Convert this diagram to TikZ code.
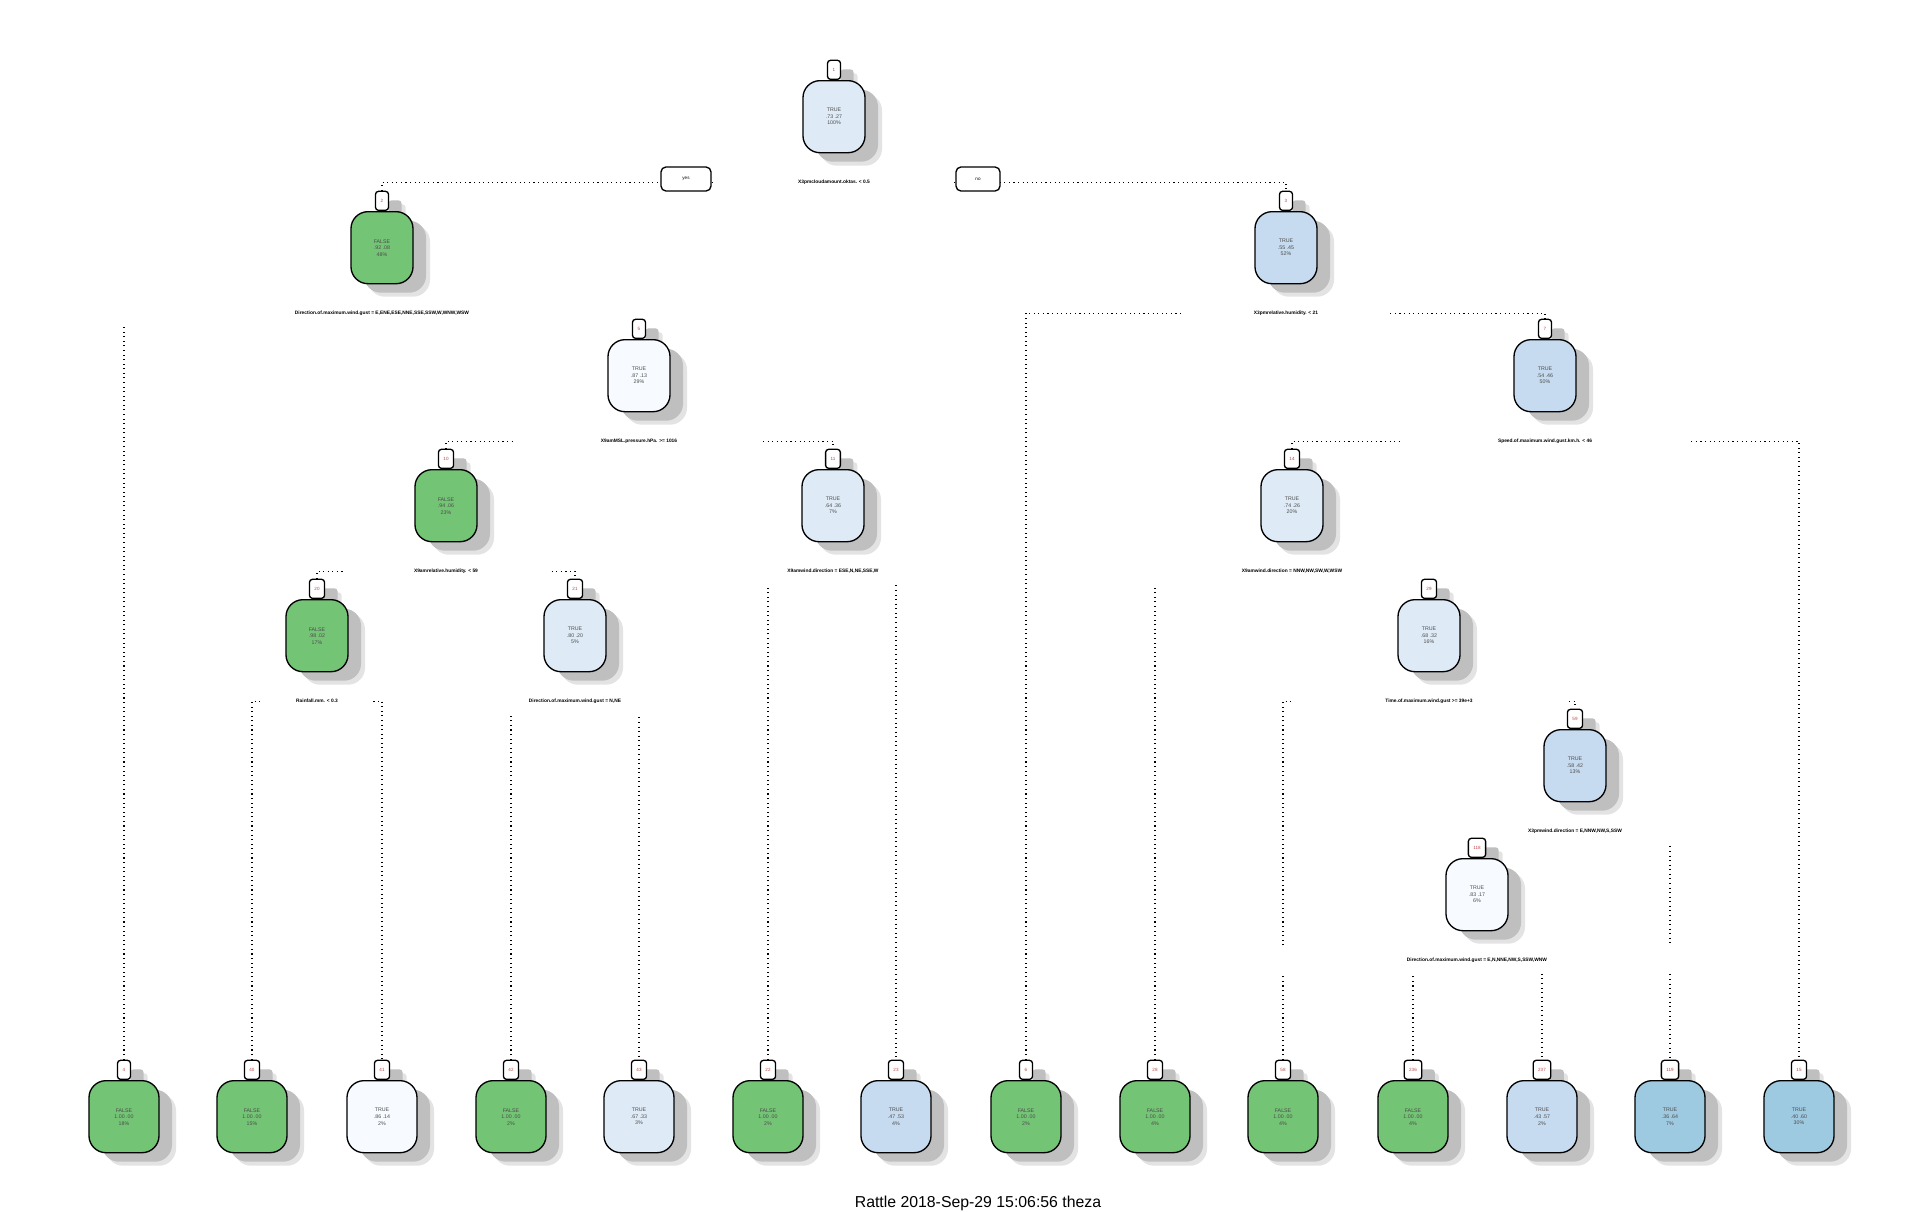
\documentclass[tikz,border=0pt]{standalone}
\usepackage{fontspec}
\setmainfont{Liberation Sans}
\usetikzlibrary{positioning,shadows,backgrounds}

\definecolor{leafgreen}{HTML}{74C476}
\definecolor{blueA}{HTML}{F7FBFF}
\definecolor{blueB}{HTML}{DEEBF7}
\definecolor{blueC}{HTML}{C6DBEF}
\definecolor{blueD}{HTML}{9ECAE1}

\begin{document}
\begin{tikzpicture}[x=0.01cm,y=-0.01cm,
	boxshadow/.style={general shadow={shadow xshift=0.17cm,shadow yshift=-0.13cm,fill=black!11},
		general shadow={shadow xshift=0.13cm,shadow yshift=-0.09cm,fill=black!25}},
	box/.style={draw,boxshadow,line width=0.38pt,rounded corners=0.17cm,minimum height=0.72cm,
		inner sep=0pt,align=center,text=black!70,font=\fontsize{1.5}{1.85}\selectfont},
	inner node/.style={box,minimum width=0.62cm},
	leaf node/.style={box,minimum width=0.70cm},
	num node/.style={draw,fill=white,boxshadow,line width=0.38pt,rounded corners=0.03cm,anchor=south,
		minimum width=0.13cm,minimum height=0.19cm,inner xsep=0.05cm,inner ysep=0pt,
		text=red!45!gray,font=\fontsize{1.3}{1.5}\selectfont},
	split/.style={fill=white,minimum height=0.26cm,inner sep=0pt,below=0.15cm of #1,
		font=\fontsize{1.38}{1.7}\selectfont\bfseries},
	yesno/.style={draw,fill=white,line width=0.38pt,rounded corners=0.05cm,minimum height=0.24cm,
		inner sep=0pt,font=\fontsize{1.3}{1.5}\selectfont},
	branch/.style={line width=0.32pt,dash pattern=on 0.3pt off 1.0pt}]
	\useasboundingbox (0,0) rectangle (1920,1212);

	\node[num node] (n1) at (834,80) {1};
	\node[inner node,fill=blueB,below=0pt of n1] (b1) {TRUE\\.73 .27\\100\%};
	\node[split=b1,minimum width=2.36cm] (s1) {X3pmcloudamount.oktas. < 0.5};
	\node[yesno,minimum width=0.50cm] (yes) at (686,179) {yes};
	\node[yesno,minimum width=0.44cm] (no) at (978,179) {no};

	\node[num node] (n2) at (382,211) {2};
	\node[inner node,fill=leafgreen,below=0pt of n2] (b2) {FALSE\\.92 .08\\48\%};
	\node[split=b2,minimum width=5.4cm] (s2) {Direction.of.maximum.wind.gust = E,ENE,ESE,NNE,SSE,SSW,W,WNW,WSW};
	\node[num node] (n3) at (1286,211) {3};
	\node[inner node,fill=blueC,below=0pt of n3] (b3) {TRUE\\.55 .45\\52\%};
	\node[split=b3,minimum width=2.06cm] (s3) {X3pmrelative.humidity. < 21};

	\node[num node] (n5) at (639,339) {5};
	\node[inner node,fill=blueA,below=0pt of n5] (b5) {TRUE\\.87 .13\\29\%};
	\node[split=b5,minimum width=2.46cm] (s5) {X9amMSL.pressure.hPa. >= 1016};
	\node[num node] (n7) at (1545,339) {7};
	\node[inner node,fill=blueC,below=0pt of n7] (b7) {TRUE\\.54 .46\\50\%};
	\node[split=b7,minimum width=2.9cm] (s7) {Speed.of.maximum.wind.gust.km.h. < 46};

	\node[num node] (n10) at (446,469) {10};
	\node[inner node,fill=leafgreen,below=0pt of n10] (b10) {FALSE\\.94 .06\\23\%};
	\node[split=b10,minimum width=2.06cm] (s10) {X9amrelative.humidity. < 59};
	\node[num node] (n11) at (833,469) {11};
	\node[inner node,fill=blueB,below=0pt of n11] (b11) {TRUE\\.64 .36\\7\%};
	\node[split=b11,minimum width=1.6cm] (s11) {X9amwind.direction = ESE,N,NE,SSE,W};
	\node[num node] (n14) at (1292,469) {14};
	\node[inner node,fill=blueB,below=0pt of n14] (b14) {TRUE\\.74 .26\\20\%};
	\node[split=b14,minimum width=3.0cm] (s14) {X9amwind.direction = NNW,NW,SW,W,WSW};

	\node[num node] (n20) at (317,599) {20};
	\node[inner node,fill=leafgreen,below=0pt of n20] (b20) {FALSE\\.98 .02\\17\%};
	\node[split=b20,minimum width=1.1cm] (s20) {Rainfall.mm. < 0.3};
	\node[num node] (n21) at (575,599) {21};
	\node[inner node,fill=blueB,below=0pt of n21] (b21) {TRUE\\.80 .20\\5\%};
	\node[split=b21,minimum width=1.6cm] (s21) {Direction.of.maximum.wind.gust = N,NE};
	\node[num node] (n29) at (1429,599) {29};
	\node[inner node,fill=blueB,below=0pt of n29] (b29) {TRUE\\.68 .32\\16\%};
	\node[split=b29,minimum width=2.74cm] (s29) {Time.of.maximum.wind.gust >= 39e+3};

	\node[num node] (n59) at (1575,729) {59};
	\node[inner node,fill=blueC,below=0pt of n59] (b59) {TRUE\\.58 .42\\13\%};
	\node[split=b59,minimum width=2.2cm] (s59) {X3pmwind.direction = E,NNW,NW,S,SSW};

	\node[num node] (n118) at (1477,858) {118};
	\node[inner node,fill=blueA,below=0pt of n118] (b118) {TRUE\\.83 .17\\6\%};
	\node[split=b118,minimum width=4.3cm] (s118) {Direction.of.maximum.wind.gust = E,N,NNE,NW,S,SSW,WNW};

	\node[num node] (n4) at (124,1080) {4};
	\node[leaf node,fill=leafgreen,below=0pt of n4] (b4) {FALSE\\1.00 .00\\18\%};
	\node[num node] (n40) at (252,1080) {40};
	\node[leaf node,fill=leafgreen,below=0pt of n40] (b40) {FALSE\\1.00 .00\\15\%};
	\node[num node] (n41) at (382,1080) {41};
	\node[leaf node,fill=blueA,below=0pt of n41] (b41) {TRUE\\.86 .14\\2\%};
	\node[num node] (n42) at (511,1080) {42};
	\node[leaf node,fill=leafgreen,below=0pt of n42] (b42) {FALSE\\1.00 .00\\2\%};
	\node[num node] (n43) at (639,1080) {43};
	\node[leaf node,fill=blueB,below=0pt of n43] (b43) {TRUE\\.67 .33\\3\%};
	\node[num node] (n22) at (768,1080) {22};
	\node[leaf node,fill=leafgreen,below=0pt of n22] (b22) {FALSE\\1.00 .00\\2\%};
	\node[num node] (n23) at (896,1080) {23};
	\node[leaf node,fill=blueC,below=0pt of n23] (b23) {TRUE\\.47 .53\\4\%};
	\node[num node] (n6) at (1026,1080) {6};
	\node[leaf node,fill=leafgreen,below=0pt of n6] (b6) {FALSE\\1.00 .00\\2\%};
	\node[num node] (n28) at (1155,1080) {28};
	\node[leaf node,fill=leafgreen,below=0pt of n28] (b28) {FALSE\\1.00 .00\\4\%};
	\node[num node] (n58) at (1283,1080) {58};
	\node[leaf node,fill=leafgreen,below=0pt of n58] (b58) {FALSE\\1.00 .00\\4\%};
	\node[num node] (n236) at (1413,1080) {236};
	\node[leaf node,fill=leafgreen,below=0pt of n236] (b236) {FALSE\\1.00 .00\\4\%};
	\node[num node] (n237) at (1542,1080) {237};
	\node[leaf node,fill=blueC,below=0pt of n237] (b237) {TRUE\\.43 .57\\2\%};
	\node[num node] (n119) at (1670,1080) {119};
	\node[leaf node,fill=blueD,below=0pt of n119] (b119) {TRUE\\.36 .64\\7\%};
	\node[num node] (n15) at (1799,1080) {15};
	\node[leaf node,fill=blueD,below=0pt of n15] (b15) {TRUE\\.40 .60\\30\%};

	\node[anchor=base,font=\fontsize{4.5}{5.4}\selectfont] (caption) at (978,1207) {Rattle 2018-Sep-29 15:06:56 theza};

	\begin{scope}[on background layer]
		\draw[branch] (n2.north) |- (s1.center) -| (n3.north);
		\draw[branch] (n4.north) |- (s2.center) -| (n5.north);
		\draw[branch] (n6.north) |- (s3.center) -| (n7.north);
		\draw[branch] (n10.north) |- (s5.center) -| (n11.north);
		\draw[branch] (n14.north) |- (s7.center) -| (n15.north);
		\draw[branch] (n20.north) |- (s10.center) -| (n21.north);
		\draw[branch] (n22.north) |- (s11.center) -| (n23.north);
		\draw[branch] (n28.north) |- (s14.center) -| (n29.north);
		\draw[branch] (n40.north) |- (s20.center) -| (n41.north);
		\draw[branch] (n42.north) |- (s21.center) -| (n43.north);
		\draw[branch] (n58.north) |- (s29.center) -| (n59.north);
		\draw[branch] (n118.north) |- (s59.center) -| (n119.north);
		\draw[branch] (n236.north) |- (s118.center) -| (n237.north);
	\end{scope}
\end{tikzpicture}
\end{document}
